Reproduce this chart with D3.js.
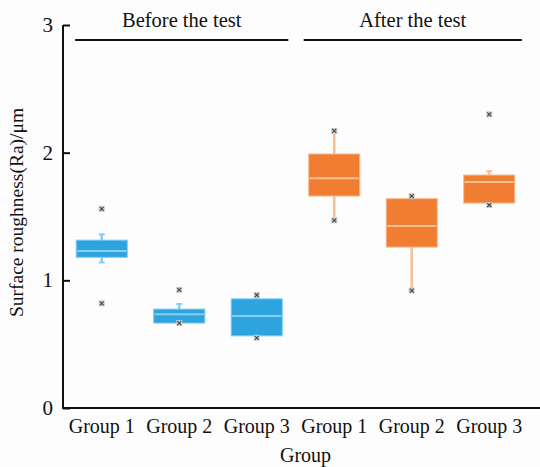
<!DOCTYPE html>
<html>
<head>
<meta charset="utf-8">
<script src="https://cdn.jsdelivr.net/npm/d3@7"></script>
<style>
  body { margin: 0; background: #fdfdfd; }
  text { font-family: "Liberation Serif", "Times New Roman", serif; fill: #111; }
</style>
</head>
<body>
<div id="chart"></div>
<script>
// data
var groups = ["Group 1", "Group 2", "Group 3", "Group 1", "Group 2", "Group 3"];
var phase = ["before", "before", "before", "after", "after", "after"];
var phaseLabels = ["Before the test", "After the test"];
var q1 = [1.18, 0.665, 0.565, 1.66, 1.26, 1.605];
var median = [1.23, 0.735, 0.72, 1.80, 1.425, 1.77];
var q3 = [1.315, 0.775, 0.855, 1.99, 1.64, 1.825];
var whiskLow = [1.14, 0.665, 0.565, 1.47, 0.92, 1.59];
var whiskHigh = [1.36, 0.815, 0.855, 2.17, 1.66, 1.855];
var points = [[1.56, 0.82], [0.925, 0.665], [0.885, 0.55], [2.17, 1.47], [1.66, 0.92], [2.30, 1.59]];
var yTicks = [0, 1, 2, 3];

var colors = {
  before: { fill: "#2ea4de", light: "#86cff2" },
  after: { fill: "#f07d31", light: "#f9bf95" }
};

var width = 540, height = 467;
var margin = {top: 25, right: 12, bottom: 59, left: 63};

var svg = d3.select("#chart")
  .append("svg")
    .attr("width", width)
    .attr("height", height);

var idx = d3.range(groups.length);

var x = d3.scaleBand()
    .domain(idx)
    .range([margin.left, width - margin.right])
    .paddingInner(0.34)
    .paddingOuter(0.17);

var y = d3.scaleLinear()
    .domain([0, 3])
    .range([height - margin.bottom, margin.top]);

// y axis (ticks point inward)
svg.append("g")
    .attr("transform", "translate(" + margin.left + ",0)")
    .call(d3.axisRight(y).tickValues(yTicks).tickSize(7).tickFormat(""))
    .call(function(g) { g.select(".domain").attr("stroke", "#111").attr("stroke-width", 2).attr("d", "M0," + y(3) + "V" + y(0)); })
    .call(function(g) { g.selectAll(".tick line").attr("stroke", "#111").attr("stroke-width", 2); });

svg.append("g").selectAll("text")
  .data(yTicks)
  .enter().append("text")
    .attr("x", margin.left - 10)
    .attr("y", function(d) { return y(d) + 7; })
    .attr("text-anchor", "end")
    .style("font-size", "21px")
    .text(function(d) { return d; });

// x axis line
svg.append("line")
    .attr("x1", margin.left - 1).attr("x2", width)
    .attr("y1", y(0)).attr("y2", y(0))
    .attr("stroke", "#111").attr("stroke-width", 2);

svg.append("g").selectAll("text")
  .data(idx)
  .enter().append("text")
    .attr("x", function(i) { return x(i) + x.bandwidth() / 2; })
    .attr("y", y(0) + 25)
    .attr("text-anchor", "middle")
    .style("font-size", "20px")
    .text(function(i) { return groups[i]; });

svg.append("text")
    .attr("x", (margin.left + width - margin.right) / 2 + 10)
    .attr("y", height - 5)
    .attr("text-anchor", "middle")
    .style("font-size", "20px")
    .text("Group");

svg.append("text")
    .attr("transform", "translate(23," + ((margin.top + height - margin.bottom) / 2 - 4) + ") rotate(-90)")
    .attr("text-anchor", "middle")
    .style("font-size", "19.5px")
    .text("Surface roughness(Ra)/\u03bcm");

// phase headers
var lineStart = [x(0) - 1, x(3) - 5];
var lineEnd = [x(2) + x.bandwidth() + 6, x(5) + x.bandwidth() + 7];
phaseLabels.forEach(function(lbl, k) {
  svg.append("line")
      .attr("x1", lineStart[k]).attr("x2", lineEnd[k])
      .attr("y1", 40).attr("y2", 40)
      .attr("stroke", "#111").attr("stroke-width", 2);
  svg.append("text")
      .attr("x", (lineStart[k] + lineEnd[k]) / 2)
      .attr("y", 27)
      .attr("text-anchor", "middle")
      .style("font-size", "20.5px")
      .text(lbl);
});

// boxes
var box = svg.append("g").selectAll("g")
  .data(idx)
  .enter().append("g");

var cx = function(i) { return x(i) + x.bandwidth() / 2; };

box.append("line")
    .attr("x1", cx).attr("x2", cx)
    .attr("y1", function(i) { return y(whiskLow[i]); })
    .attr("y2", function(i) { return y(whiskHigh[i]); })
    .attr("stroke", function(i) { return colors[phase[i]].light; })
    .attr("stroke-width", 2.5);

box.append("line")
    .attr("x1", function(i) { return cx(i) - 3; }).attr("x2", function(i) { return cx(i) + 3; })
    .attr("y1", function(i) { return y(whiskHigh[i]); })
    .attr("y2", function(i) { return y(whiskHigh[i]); })
    .attr("stroke", function(i) { return colors[phase[i]].light; })
    .attr("stroke-width", 2);

box.append("line")
    .attr("x1", function(i) { return cx(i) - 3; }).attr("x2", function(i) { return cx(i) + 3; })
    .attr("y1", function(i) { return y(whiskLow[i]); })
    .attr("y2", function(i) { return y(whiskLow[i]); })
    .attr("stroke", function(i) { return colors[phase[i]].light; })
    .attr("stroke-width", 2);

box.append("rect")
    .attr("x", function(i) { return x(i); })
    .attr("width", x.bandwidth())
    .attr("y", function(i) { return y(q3[i]); })
    .attr("height", function(i) { return y(q1[i]) - y(q3[i]); })
    .attr("fill", function(i) { return colors[phase[i]].fill; })
    .attr("stroke", function(i) { return colors[phase[i]].light; })
    .attr("stroke-width", 1);

box.append("line")
    .attr("x1", function(i) { return x(i) + 1; })
    .attr("x2", function(i) { return x(i) + x.bandwidth() - 1; })
    .attr("y1", function(i) { return y(median[i]); })
    .attr("y2", function(i) { return y(median[i]); })
    .attr("stroke", function(i) { return colors[phase[i]].light; })
    .attr("stroke-width", 2);

// min/max & outlier markers
var marks = [];
idx.forEach(function(i) { points[i].forEach(function(v) { marks.push({i: i, v: v}); }); });

var mk = svg.append("g").selectAll("g")
  .data(marks)
  .enter().append("g")
    .attr("transform", function(d) { return "translate(" + cx(d.i) + "," + y(d.v) + ")"; });

mk.append("rect")
    .attr("x", -3).attr("y", -3).attr("width", 6).attr("height", 6)
    .attr("fill", "#cfcfcf");

mk.append("path")
    .attr("d", d3.symbol().type(d3.symbolX).size(12))
    .attr("stroke", "#444")
    .attr("stroke-width", 1.1);
</script>
</body>
</html>
